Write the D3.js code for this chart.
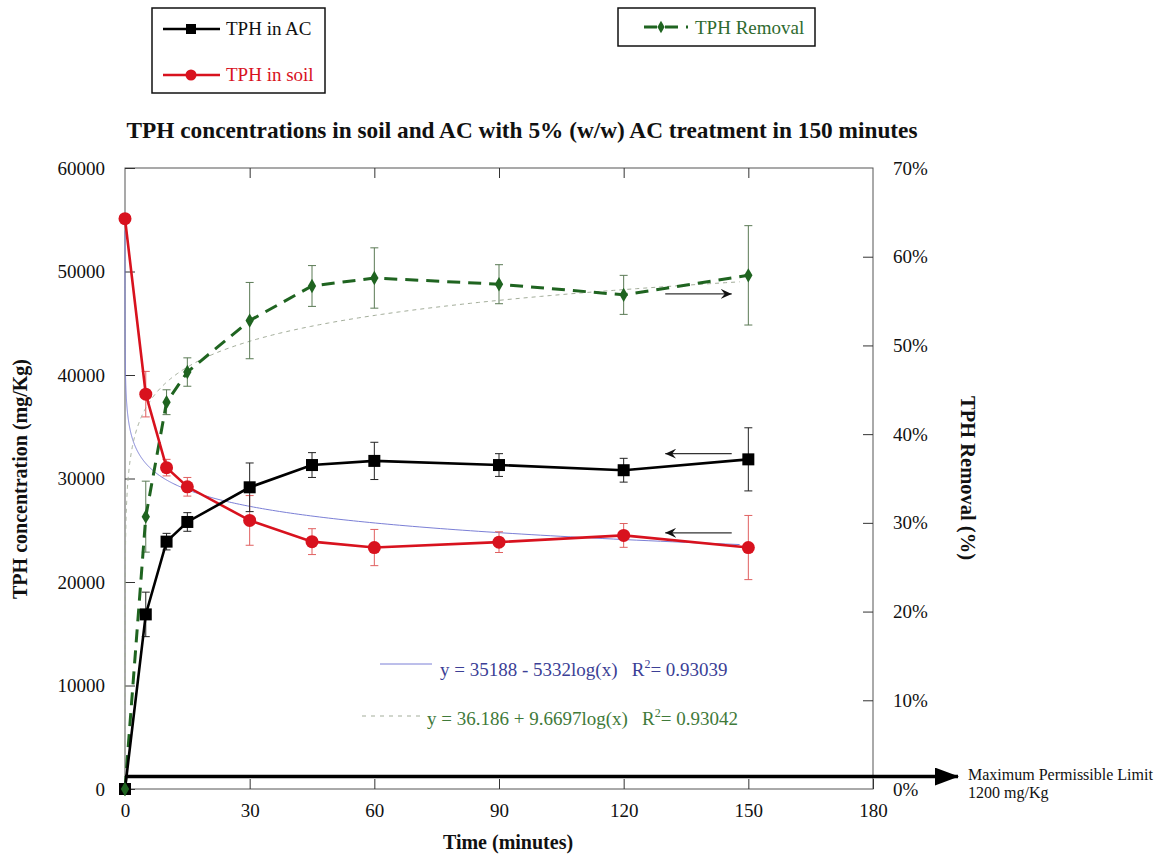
<!DOCTYPE html>
<html>
<head>
<meta charset="utf-8">
<script src="https://cdn.jsdelivr.net/npm/d3@7"></script>
<style>
  body { margin: 0; background: #fff; }
  svg { display: block; font-family: "Liberation Serif", "DejaVu Serif", serif; }
  .pre { white-space: pre; }
</style>
</head>
<body>
<svg id="chart" width="1162" height="854"></svg>
<script>
// Sampling times (minutes)
const times = [0, 5, 10, 15, 30, 45, 60, 90, 120, 150];

// TPH remaining in soil (mg/Kg) and its standard deviation
const soilTPH = [55100, 38150, 31050, 29200, 25950, 23900, 23330, 23850, 24500, 23330];
const soilErr = [0, 2200, 800, 900, 2400, 1250, 1750, 1000, 1150, 3100];

// TPH adsorbed on activated carbon (mg/Kg) and its standard deviation
const acTPH = [0, 16870, 23900, 25800, 29150, 31300, 31700, 31300, 30800, 31850];
const acErr = [0, 2150, 800, 900, 2350, 1200, 1800, 1100, 1150, 3050];

// TPH removal (%) and its standard deviation
const removal = [0, 30.7, 43.6, 47.0, 52.8, 56.7, 57.6, 56.9, 55.7, 57.9];
const removalErr = [0, 4.0, 1.4, 1.6, 4.3, 2.3, 3.4, 2.2, 2.2, 5.6];

// Logarithmic fits (log base 10)
const soilFit = { a: 35188, b: -5332 };
const removalFit = { a: 36.186, b: 9.6697 };

const xTicks = [0, 30, 60, 90, 120, 150, 180];
const yTicks = [0, 10000, 20000, 30000, 40000, 50000, 60000];
const rTicks = [0, 10, 20, 30, 40, 50, 60, 70];
const permissibleLimit = 1200;

const svg = d3.select("#chart");
const L = 125, R = 873, T = 168, B = 789;

const x = d3.scaleLinear().domain([0, 180]).range([L, R]);
const y = d3.scaleLinear().domain([0, 60000]).range([B, T]);
const yr = d3.scaleLinear().domain([0, 70]).range([B, T]);

const RED = "#d8121e", BLACK = "#000", GREEN = "#1f6420";

// Frame
svg.append("rect").attr("x", L).attr("y", T).attr("width", R - L).attr("height", B - T)
  .attr("fill", "none").attr("stroke", "#555").attr("stroke-width", 1);

// Axes with inward ticks
const axisStyle = g => {
  g.select(".domain").remove();
  g.selectAll(".tick line").attr("stroke", "#333");
  g.selectAll(".tick text").attr("font-family", "Liberation Serif").attr("font-size", 19).attr("fill", "#111");
};
svg.append("g").attr("transform", `translate(0,${B})`)
  .call(d3.axisBottom(x).tickValues(xTicks).tickSizeInner(-10).tickPadding(15).tickFormat(d3.format("d")))
  .call(axisStyle);
svg.append("g").attr("transform", `translate(0,${T})`)
  .call(d3.axisTop(x).tickValues(xTicks.slice(1, -1)).tickSizeInner(-10).tickFormat(""))
  .call(axisStyle);
svg.append("g").attr("transform", `translate(${L},0)`)
  .call(d3.axisLeft(y).tickValues(yTicks).tickSizeInner(-10).tickPadding(20).tickFormat(d3.format("d")))
  .call(axisStyle);
svg.append("g").attr("transform", `translate(${R},0)`)
  .call(d3.axisRight(yr).tickValues(rTicks).tickSizeInner(-10).tickPadding(20).tickFormat(d => d + "%"))
  .call(axisStyle)
  .call(g => g.selectAll(".tick line").filter(d => d === 0 || d === 70).remove());

// Fitted curves
const fitXs = d3.range(-3.6, Math.log10(150) + 0.001, 0.01).map(e => Math.pow(10, e));
svg.append("path")
  .datum(fitXs.filter(t => soilFit.a + soilFit.b * Math.log10(t) <= 54000))
  .attr("fill", "none").attr("stroke", "#7b7fd6").attr("stroke-width", 1)
  .attr("d", d3.line().x(t => x(t)).y(t => y(soilFit.a + soilFit.b * Math.log10(t))));
svg.append("path")
  .datum(fitXs.filter(t => removalFit.a + removalFit.b * Math.log10(t) >= 0))
  .attr("fill", "none").attr("stroke", "#a3ad9a").attr("stroke-width", 1).attr("stroke-dasharray", "4,4")
  .attr("d", d3.line().x(t => x(t)).y(t => yr(removalFit.a + removalFit.b * Math.log10(t))));

// Error bars
function errorBars(vals, errs, scale, color) {
  const g = svg.append("g").attr("stroke", color).attr("stroke-width", 1);
  times.forEach((t, i) => {
    if (!errs[i]) return;
    const cx = x(t), y1 = scale(vals[i] + errs[i]), y2 = scale(vals[i] - errs[i]);
    g.append("line").attr("x1", cx).attr("x2", cx).attr("y1", y1).attr("y2", y2);
    g.append("line").attr("x1", cx - 4).attr("x2", cx + 4).attr("y1", y1).attr("y2", y1);
    g.append("line").attr("x1", cx - 4).attr("x2", cx + 4).attr("y1", y2).attr("y2", y2);
  });
}
errorBars(removal, removalErr, yr, "#5b7a55");
errorBars(soilTPH, soilErr, y, "#e06060");
errorBars(acTPH, acErr, y, "#222");

// TPH removal series (dashed green, diamonds)
svg.append("path").datum(times.map((t, i) => [t, removal[i]]))
  .attr("fill", "none").attr("stroke", GREEN).attr("stroke-width", 3).attr("stroke-dasharray", "13,8")
  .attr("d", d3.line().x(d => x(d[0])).y(d => yr(d[1])));
svg.append("g").selectAll("path").data(times.map((t, i) => [t, removal[i]])).join("path")
  .attr("transform", d => `translate(${x(d[0])},${yr(d[1])})`)
  .attr("d", d3.symbol(d3.symbolDiamond, 60)).attr("fill", GREEN);

// TPH in soil (red, circles)
svg.append("path").datum(times.map((t, i) => [t, soilTPH[i]]))
  .attr("fill", "none").attr("stroke", RED).attr("stroke-width", 2.6)
  .attr("d", d3.line().x(d => x(d[0])).y(d => y(d[1])));
svg.append("g").selectAll("circle").data(times.map((t, i) => [t, soilTPH[i]])).join("circle")
  .attr("cx", d => x(d[0])).attr("cy", d => y(d[1])).attr("r", 6.5).attr("fill", RED);

// TPH in AC (black, squares)
svg.append("path").datum(times.map((t, i) => [t, acTPH[i]]))
  .attr("fill", "none").attr("stroke", BLACK).attr("stroke-width", 2.6)
  .attr("d", d3.line().x(d => x(d[0])).y(d => y(d[1])));
svg.append("g").selectAll("rect").data(times.map((t, i) => [t, acTPH[i]])).join("rect")
  .attr("x", d => x(d[0]) - 6).attr("y", d => y(d[1]) - 6).attr("width", 12).attr("height", 12)
  .attr("fill", BLACK);
// origin marker of the removal series sits on top
svg.append("path").attr("transform", `translate(${x(0)},${yr(0)})`)
  .attr("d", d3.symbol(d3.symbolDiamond, 60)).attr("fill", GREEN);

// Arrow markers
const defs = svg.append("defs");
defs.append("marker").attr("id", "open").attr("viewBox", "0 0 12 10").attr("refX", 11).attr("refY", 5)
  .attr("markerWidth", 12).attr("markerHeight", 10).attr("markerUnits", "userSpaceOnUse").attr("orient", "auto")
  .append("path").attr("d", "M0,0 L11,5 L0,10 L4,5 Z").attr("fill", "#111");
defs.append("marker").attr("id", "big").attr("viewBox", "0 0 24 18").attr("refX", 23).attr("refY", 9)
  .attr("markerWidth", 24).attr("markerHeight", 18).attr("markerUnits", "userSpaceOnUse").attr("orient", "auto")
  .append("path").attr("d", "M0,0 L24,9 L0,18 Z").attr("fill", "#000");

// Axis-pointing arrows
const arrow = (t1, t2, v, scale) => svg.append("line")
  .attr("x1", x(t1)).attr("x2", x(t2)).attr("y1", scale(v)).attr("y2", scale(v))
  .attr("stroke", "#333").attr("stroke-width", 1.2).attr("marker-end", "url(#open)");
arrow(130, 146, 55.8, yr);
arrow(146, 130, 32400, y);
arrow(146, 130, 24750, y);

// Maximum permissible limit line
svg.append("line").attr("x1", x(0)).attr("x2", 958).attr("y1", y(permissibleLimit)).attr("y2", y(permissibleLimit))
  .attr("stroke", "#000").attr("stroke-width", 3.5).attr("marker-end", "url(#big)");
svg.append("text").attr("x", 968).attr("y", y(permissibleLimit) + 3).attr("font-size", 16).attr("fill", "#111")
  .text("Maximum Permissible Limit");
svg.append("text").attr("x", 968).attr("y", y(permissibleLimit) + 21).attr("font-size", 16).attr("fill", "#111")
  .text("1200 mg/Kg");

// Fit equations
svg.append("line").attr("x1", 380).attr("x2", 432).attr("y1", 664).attr("y2", 664)
  .attr("stroke", "#7b7fd6").attr("stroke-width", 1);
const eq1 = svg.append("text").attr("class", "pre").attr("x", 440).attr("y", 676).attr("font-size", 19).attr("fill", "#3c3f96");
eq1.append("tspan").text("y = 35188 - 5332log(x)   R");
eq1.append("tspan").attr("dy", -8).attr("font-size", 12).text("2");
eq1.append("tspan").attr("dy", 8).text("= 0.93039");

svg.append("line").attr("x1", 362).attr("x2", 425).attr("y1", 716).attr("y2", 716)
  .attr("stroke", "#a3ad9a").attr("stroke-width", 1).attr("stroke-dasharray", "4,5");
const eq2 = svg.append("text").attr("class", "pre").attr("x", 427).attr("y", 725).attr("font-size", 19).attr("fill", "#3f7a3a");
eq2.append("tspan").text("y = 36.186 + 9.6697log(x)   R");
eq2.append("tspan").attr("dy", -8).attr("font-size", 12).text("2");
eq2.append("tspan").attr("dy", 8).text("= 0.93042");

// Title and axis titles
svg.append("text").attr("x", 522).attr("y", 138).attr("text-anchor", "middle")
  .attr("font-size", 23.3).attr("font-weight", "bold").attr("fill", "#111")
  .text("TPH concentrations in soil and AC with 5% (w/w) AC treatment in 150 minutes");
svg.append("text").attr("transform", "translate(27,479) rotate(-90)").attr("text-anchor", "middle")
  .attr("font-size", 20).attr("font-weight", "bold").attr("fill", "#111")
  .text("TPH concentration (mg/Kg)");
svg.append("text").attr("transform", "translate(961,478) rotate(90)").attr("text-anchor", "middle")
  .attr("font-size", 20.5).attr("font-weight", "bold").attr("fill", "#111")
  .text("TPH Removal (%)");
svg.append("text").attr("x", 508).attr("y", 849).attr("text-anchor", "middle")
  .attr("font-size", 20).attr("font-weight", "bold").attr("fill", "#111")
  .text("Time (minutes)");

// Legends
const leg1 = svg.append("g");
leg1.append("rect").attr("x", 152).attr("y", 8).attr("width", 173).attr("height", 85)
  .attr("fill", "#fff").attr("stroke", "#111").attr("stroke-width", 1.5);
leg1.append("line").attr("x1", 163).attr("x2", 220).attr("y1", 29).attr("y2", 29).attr("stroke", BLACK).attr("stroke-width", 2.6);
leg1.append("rect").attr("x", 186).attr("y", 24).attr("width", 10).attr("height", 10).attr("fill", BLACK);
leg1.append("text").attr("x", 226).attr("y", 35).attr("font-size", 19).attr("fill", "#111").text("TPH in AC");
leg1.append("line").attr("x1", 163).attr("x2", 220).attr("y1", 75).attr("y2", 75).attr("stroke", RED).attr("stroke-width", 2.6);
leg1.append("circle").attr("cx", 191).attr("cy", 75).attr("r", 5.5).attr("fill", RED);
leg1.append("text").attr("x", 226).attr("y", 81).attr("font-size", 19).attr("fill", RED).text("TPH in soil");

const leg2 = svg.append("g");
leg2.append("rect").attr("x", 618).attr("y", 8).attr("width", 197).attr("height", 38)
  .attr("fill", "#fff").attr("stroke", "#111").attr("stroke-width", 1.5);
leg2.append("line").attr("x1", 644).attr("x2", 688).attr("y1", 27).attr("y2", 27)
  .attr("stroke", GREEN).attr("stroke-width", 3).attr("stroke-dasharray", "13,8");
leg2.append("path").attr("transform", "translate(661,27)").attr("d", d3.symbol(d3.symbolDiamond, 45)).attr("fill", GREEN);
leg2.append("text").attr("x", 695).attr("y", 34).attr("font-size", 19).attr("fill", "#2f6a2f").text("TPH Removal");
</script>
</body>
</html>
